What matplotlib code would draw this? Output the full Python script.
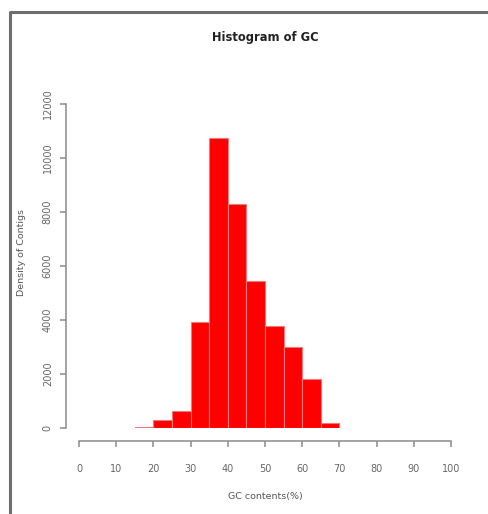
import matplotlib.pyplot as plt
from matplotlib.lines import Line2D

# GC content histogram (bin width 5)
bin_left = [15, 20, 25, 30, 35, 40, 45, 50, 55, 60, 65]
counts = [40, 300, 640, 3910, 10730, 8300, 5430, 3790, 2990, 1815, 185]
bin_width = 5
x_ticks = [0, 10, 20, 30, 40, 50, 60, 70, 80, 90, 100]
y_ticks = [0, 2000, 4000, 6000, 8000, 10000, 12000]

W, H = 488, 514
fig = plt.figure(figsize=(W / 100, H / 100), dpi=100)
fig.patch.set_facecolor("white")

# plot region in pixels: x 0->79, 100->451 ; y 0->428, 12000->104
ax = fig.add_axes([79 / W, (H - 428) / H, (451 - 79) / W, (428 - 104) / H])
ax.bar(bin_left, counts, width=bin_width, align="edge",
       color="#ff0000", edgecolor="#ec7a7a", linewidth=0.8)

ax.set_xlim(0, 100)
ax.set_ylim(0, 12000)
ax.set_xticks(x_ticks)
ax.set_yticks(y_ticks)

grey = "#8a8a8a"
for side in ["top", "right"]:
    ax.spines[side].set_visible(False)
for side in ["left", "bottom"]:
    ax.spines[side].set_position(("outward", 9.4))
    ax.spines[side].set_color(grey)
    ax.spines[side].set_linewidth(1.1)
ax.spines["left"].set_bounds(0, 12000)
ax.spines["bottom"].set_bounds(0, 100)
ax.tick_params(colors=grey, labelcolor="#666666", labelsize=7,
               length=4.5, width=1.1)
ax.tick_params(axis="x", pad=12)
ax.tick_params(axis="y", pad=5, labelrotation=90)
for lab in ax.get_yticklabels():
    lab.set_va("center")

fig.text(265 / W, 1 - 37 / H, "Histogram of GC", ha="center", va="center",
         fontsize=8.3, fontweight="bold", color="#222222")
fig.text(265 / W, 1 - 497 / H, "GC contents(%)", ha="center", va="center",
         fontsize=6.8, color="#555555")
fig.text(22 / W, 1 - 252 / H, "Density of Contigs", ha="center", va="center",
         rotation=90, fontsize=6.8, color="#555555")

# outer frame (top and left edges visible)
fig.add_artist(Line2D([10 / W, 10 / W, 1.0], [0.0, 1 - 12 / H, 1 - 12 / H],
                      transform=fig.transFigure, color="#6e6e6e", linewidth=2.2))

fig.savefig("out.png", dpi=100, facecolor="white")
